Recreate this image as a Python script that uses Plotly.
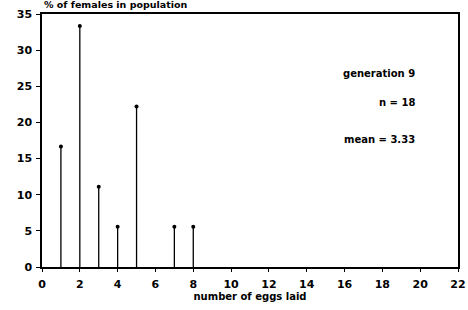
import plotly.graph_objects as go

eggs = [1, 2, 3, 4, 5, 7, 8]
percent = [16.67, 33.33, 11.11, 5.56, 22.22, 5.56, 5.56]
x_ticks = list(range(0, 23, 2))
y_ticks = list(range(0, 36, 5))
info = ["generation 9", "n = 18", "mean = 3.33"]
info_y = [26.8, 22.8, 17.6]

sx, sy = [], []
for e, p in zip(eggs, percent):
    sx += [e, e, None]
    sy += [0, p, None]

fig = go.Figure()
fig.add_trace(go.Scatter(x=sx, y=sy, mode="lines",
                         line=dict(color="black", width=1.3), hoverinfo="skip"))
fig.add_trace(go.Scatter(x=eggs, y=percent, mode="markers",
                         marker=dict(color="black", size=4)))

fam = "DejaVu Sans, sans-serif"
tfont = dict(family=fam, size=11, color="black")
afont = dict(family=fam, size=10, color="black")
for t, yv in zip(info, info_y):
    fig.add_annotation(x=19.83, y=yv, text="<b>%s</b>" % t, showarrow=False,
                       xanchor="right", yanchor="middle", font=afont)

fig.add_annotation(xref="paper", yref="paper", x=0, y=1, yshift=2,
                   text="<b>% of females in population</b>", showarrow=False,
                   xanchor="left", yanchor="bottom", font=dict(family=fam, size=9.5, color="black"))

fig.update_layout(
    width=468, height=310, showlegend=False,
    margin=dict(l=42, r=10, t=14, b=43),
    plot_bgcolor="white", paper_bgcolor="white",
    font=tfont,
    xaxis=dict(range=[0, 22], tickvals=x_ticks,
               ticktext=["<b>%d</b>" % v for v in x_ticks],
               showgrid=False, zeroline=False, showline=True, linecolor="black",
               linewidth=1.5, mirror=True, ticks="outside", ticklen=3,
               tickcolor="black", automargin=False, ticklabelstandoff=3,
               title=dict(text="<b>number of eggs laid</b>", font=afont, standoff=3)),
    yaxis=dict(range=[0, 35], tickvals=y_ticks,
               ticktext=["<b>%d</b>" % v for v in y_ticks],
               showgrid=False, zeroline=False, showline=True, linecolor="black",
               linewidth=1.5, mirror=True, ticks="outside", ticklen=4,
               tickcolor="black", automargin=False, ticklabelstandoff=2),
)
fig.write_html("out.html", config={"displayModeBar": False},
               post_script="document.body.style.margin='0';")
